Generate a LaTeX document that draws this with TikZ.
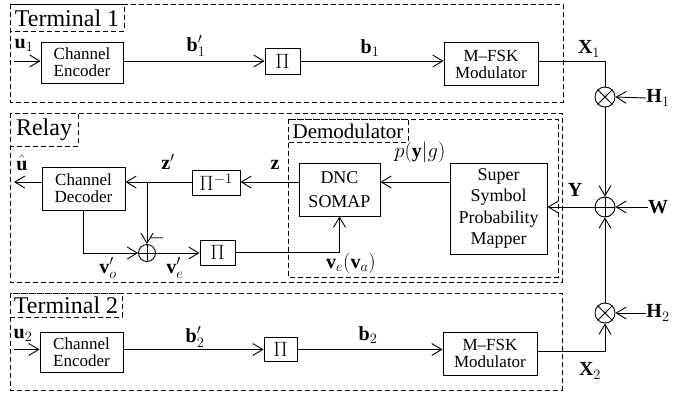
\documentclass[tikz,border=0pt]{standalone}
\usepackage{fontspec}
\setmainfont{Liberation Serif}
\newfontfamily\tms{Liberation Serif}
\DeclareMathSizes{20}{20}{15}{11}
\usetikzlibrary{arrows.meta}
\begin{document}
\begin{tikzpicture}[x=1pt,y=-1pt, line width=0.9pt,
  >={Straight Barb[length=10pt,width=12pt]},
  blk/.style={draw, inner sep=0pt, align=center, font=\tms\fontsize{17}{17}\selectfont},
  pibox/.style={draw, inner sep=0pt, font=\fontsize{20}{20}\selectfont},
  grp/.style={draw, dash pattern=on 5pt off 3pt},
  ttl/.style={font=\tms\fontsize{24}{24}\selectfont, inner sep=0pt},
  lbl/.style={font=\fontsize{20}{20}\selectfont, inner sep=0pt},
  circ/.style={draw, circle, minimum size=20pt, inner sep=0pt}
]
\useasboundingbox (0,0) rectangle (674,399);

% ---------------- group frames ----------------
\draw[grp] (10,4) rectangle (563,102);
\draw[grp] (10,4) rectangle (124,31);
\node[ttl] (t1) at (67,18) {Terminal 1};

\draw[grp] (10,113) rectangle (562,282);
\draw[grp] (10,113) rectangle (78,146);
\node[ttl] (trel) at (44,130) {Relay};

\draw[grp] (288,119) rectangle (558,277);
\draw[grp] (288,119) rectangle (408,142);
\node[ttl, font=\tms\fontsize{21}{21}\selectfont] (tdem) at (348,131) {Demodulator};

\draw[grp] (10,293) rectangle (562,390);
\draw[grp] (10,293) rectangle (122,317);
\node[ttl] (t2) at (66,305) {Terminal 2};

% ---------------- Terminal 1 ----------------
\node[blk, minimum width=82pt, minimum height=41pt] (enc1) at (82,62.5) {Channel\\Encoder};
\node[pibox, minimum width=35pt, minimum height=26pt] (pi1) at (282.5,61) {$\Pi$};
\node[blk, minimum width=94pt, minimum height=43pt] (mod1) at (491,64) {M\textendash FSK\\Modulator};
\node[circ] (ot1) at (605,97) {};
\draw (ot1.north west) -- (ot1.south east) (ot1.north east) -- (ot1.south west);

\coordinate (in1) at (14,61);
\draw[->] (in1) -- (in1 -| enc1.west);
\draw[->] (enc1.east |- pi1.west) -- (pi1.west);
\draw[->] (pi1.east) -- (pi1.east -| mod1.west);
\draw (mod1.east |- pi1.east) -| (ot1.north);

\node[lbl] (u1) at (24,45) {$\mathbf{u}_1$};
\node[lbl] (bp1) at (196,46) {$\mathbf{b}'_1$};
\node[lbl] (b1) at (370,48) {$\mathbf{b}_1$};
\node[lbl] (x1) at (589,49) {$\mathbf{X}_1$};
\node[lbl] (h1) at (658,98) {$\mathbf{H}_1$};
\draw[->] (h1.west) -- (ot1.east);

% ---------------- Relay ----------------
\coordinate (r1) at (0,182);
\node[blk, minimum width=83pt, minimum height=43pt] (dec) at (83.5,188.5) {Channel\\Decoder};
\node[pibox, minimum width=48pt, minimum height=25pt] (pinv) at (216,182.5) {$\Pi^{-1}$};
\node[circ, minimum size=17pt] (opr) at (147,253) {};
\draw (opr.north) -- (opr.south) (opr.west) -- (opr.east);
\node[pibox, minimum width=35pt, minimum height=25pt] (pir) at (217.5,252.5) {$\Pi$};
\node[blk, minimum width=81pt, minimum height=53pt, font=\tms\fontsize{18}{24}\selectfont] (dnc) at (339.5,189.5) {DNC\\SOMAP};
\node[blk, minimum width=97pt, minimum height=91pt, font=\tms\fontsize{18}{21.5}\selectfont] (sspm) at (498.5,208.5) {Super\\Symbol\\Probability\\Mapper};
\node[circ] (op) at (605,207) {};
\draw (op.north) -- (op.south) (op.west) -- (op.east);

\coordinate (uout) at (14,182);
\coordinate (j) at (147,182);
\draw[->] (dec.west |- r1) -- (uout);
\draw[->] (pinv.west |- r1) -- (dec.east |- r1);
\draw[->] (dnc.west |- r1) -- (pinv.east |- r1);
\draw[->] (sspm.west |- r1) -- (dnc.east |- r1);
\draw[->] (j) -- (opr.north);
\draw[->] (dec.south) |- (opr.west);
\draw[->] (opr.east) -- (opr.east -| pir.west);
\draw[->] (pir.east) -| (dnc.south);
\draw[->] (op.west) -- (op.west -| sspm.east);
\draw[->] (ot1.south) -- (op.north);

\node[lbl] (uh) at (22,163) {$\hat{\mathbf{u}}$};
\node[lbl] (zp) at (168,162) {$\mathbf{z}'$};
\node[lbl] (z) at (275,165) {$\mathbf{z}$};
\node[lbl] (minus) at (157,238) {$-$};
\node[lbl] (vo) at (108,268) {$\mathbf{v}'_o$};
\node[lbl] (ve) at (175,268) {$\mathbf{v}'_e$};
\node[lbl] (vea) at (351,263) {$\mathbf{v}_e(\mathbf{v}_a)$};
\node[lbl] (pyg) at (420,152) {$p(\mathbf{y}|g)$};
\node[lbl] (y) at (575,190) {$\mathbf{Y}$};
\node[lbl] (w) at (658,207) {$\mathbf{W}$};
\draw[->] (w.west) -- (op.east);

% ---------------- Terminal 2 ----------------
\node[blk, minimum width=83pt, minimum height=40pt] (enc2) at (81.5,352) {Channel\\Encoder};
\node[pibox, minimum width=33pt, minimum height=24pt] (pi2) at (280.5,349.5) {$\Pi$};
\node[blk, minimum width=94pt, minimum height=43pt] (mod2) at (490,353.5) {M\textendash FSK\\Modulator};
\node[circ] (ot2) at (605,313) {};
\draw (ot2.north west) -- (ot2.south east) (ot2.north east) -- (ot2.south west);

\coordinate (in2) at (14,349.5);
\draw[->] (in2) -- (in2 -| enc2.west);
\draw[->] (enc2.east |- pi2.west) -- (pi2.west);
\draw[->] (pi2.east) -- (pi2.east -| mod2.west);
\draw[->] (mod2.east |- 0,351) -| (ot2.south);
\draw[->] (ot2.north) -- (op.south);

\node[lbl] (u2) at (23,335) {$\mathbf{u}_2$};
\node[lbl] (bp2) at (195,337) {$\mathbf{b}'_2$};
\node[lbl] (b2) at (368,335) {$\mathbf{b}_2$};
\node[lbl] (x2) at (590,371) {$\mathbf{X}_2$};
\node[lbl] (h2) at (658,313) {$\mathbf{H}_2$};
\draw[->] (h2.west) -- (ot2.east);
\end{tikzpicture}
\end{document}
